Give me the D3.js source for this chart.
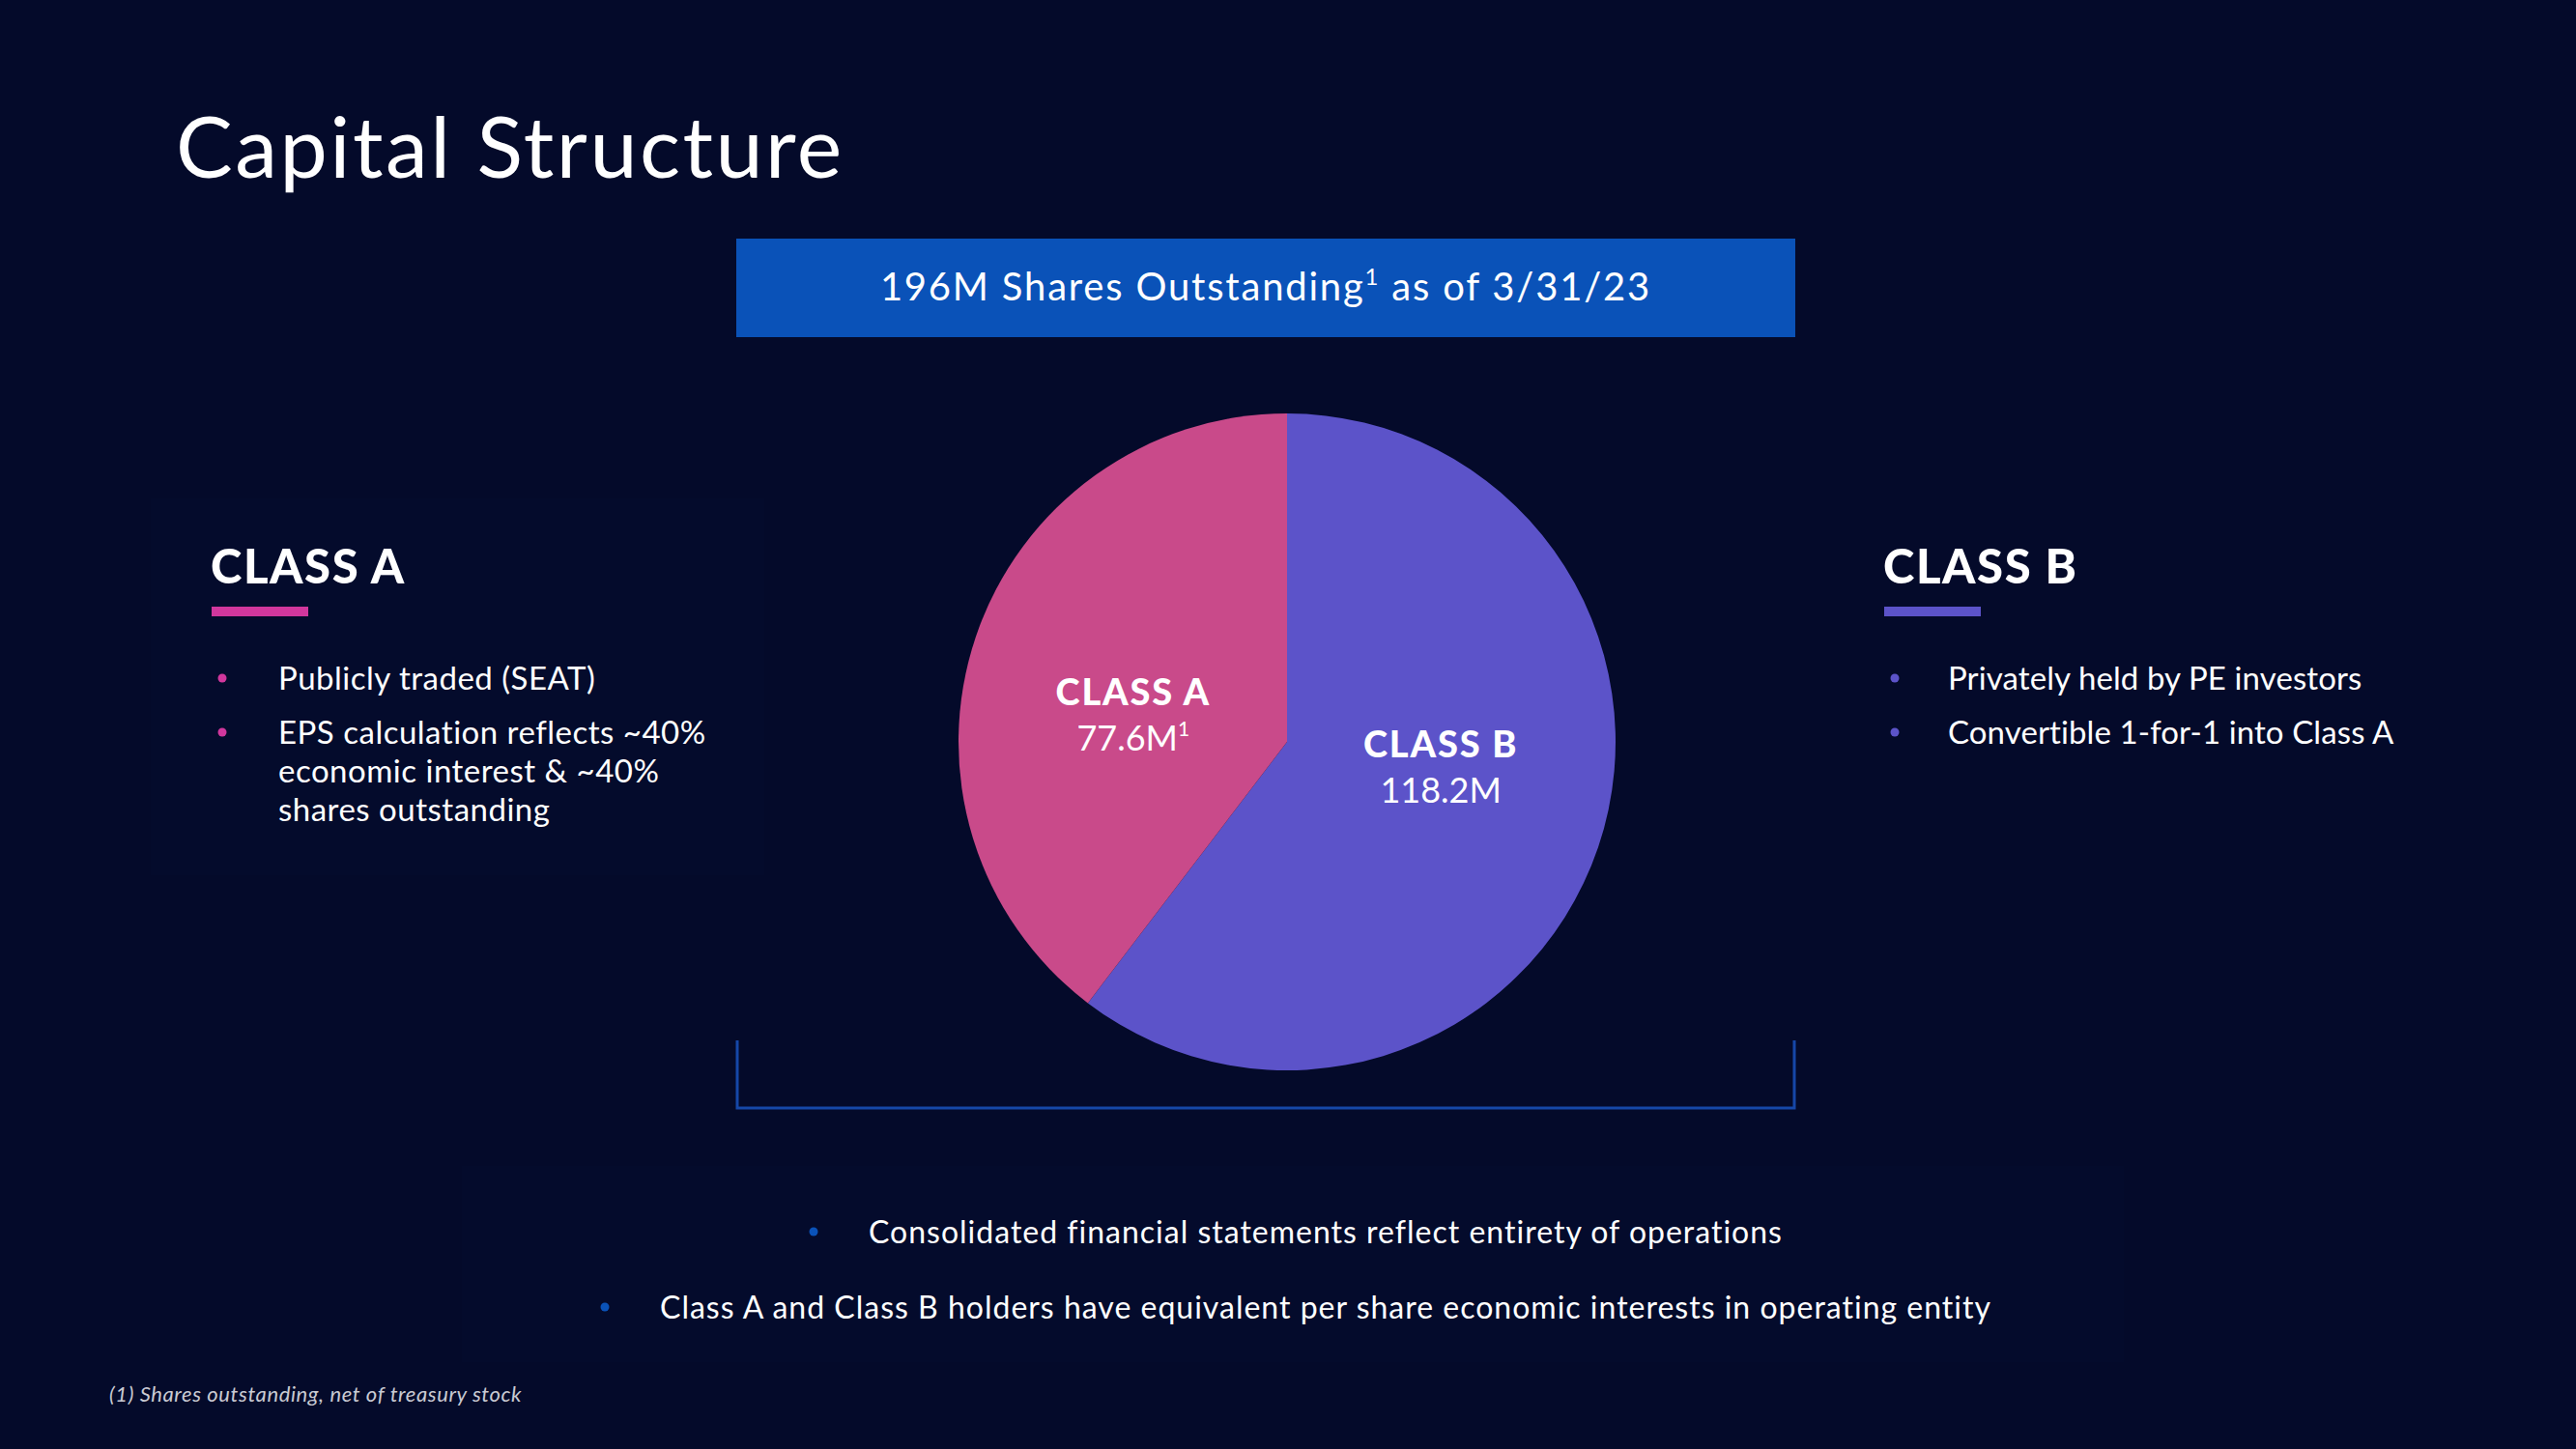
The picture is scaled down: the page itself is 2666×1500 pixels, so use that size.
<!DOCTYPE html>
<html>
<head>
<meta charset="utf-8">
<script src="https://cdn.jsdelivr.net/npm/d3@7"></script>
<style>
  html, body { margin: 0; padding: 0; background: #040a2a; }
  svg { display: block; }
  text { font-family: Lato, "Open Sans", sans-serif; fill: #fff; }
</style>
</head>
<body>
<div id="chart"></div>
<script>
// chart data
const categories = ["CLASS B", "CLASS A"];
const shares = [118.2, 77.6];
const valueLabels = ["118.2M", "77.6M"];
const valueNotes = ["", "1"];
const sliceColors = ["#5c53c9", "#c94a8a"];

const headline = ["196M Shares Outstanding", "1", " as of 3/31/23"];
const classABullets = [["Publicly traded (SEAT)"], ["EPS calculation reflects ~40%", "economic interest & ~40%", "shares outstanding"]];
const classBBullets = [["Privately held by PE investors"], ["Convertible 1-for-1 into Class A"]];
const bottomBullets = ["Consolidated financial statements reflect entirety of operations",
  "Class A and Class B holders have equivalent per share economic interests in operating entity"];
const footnote = "(1) Shares outstanding, net of treasury stock";

const width = 2666, height = 1500;
const svg = d3.select("#chart").append("svg")
  .attr("width", width).attr("height", height)
  .attr("viewBox", [0, 0, width, height]);

svg.append("rect").attr("width", width).attr("height", height).attr("fill", "#040a2a");

// faint backing panels
svg.append("rect").attr("x", 156).attr("y", 516).attr("width", 635).attr("height", 390)
  .attr("fill", "#040b2c");
svg.append("rect").attr("x", 478).attr("y", 1207).attr("width", 1720).attr("height", 203)
  .attr("fill", "#040b2c");

svg.append("text").attr("x", 182).attr("y", 184)
  .attr("font-size", 88).attr("font-weight", 400).attr("letter-spacing", 2.5)
  .text("Capital Structure");

// headline box
svg.append("rect").attr("x", 762).attr("y", 247).attr("width", 1096).attr("height", 102)
  .attr("fill", "#0a52b8");
const hl = svg.append("text").attr("x", 1310).attr("y", 311)
  .attr("text-anchor", "middle").attr("font-size", 40).attr("letter-spacing", 1.8);
hl.append("tspan").text(headline[0]);
hl.append("tspan").attr("font-size", 24).attr("dy", -16).text(headline[1]);
hl.append("tspan").attr("dy", 16).text(headline[2]);

// bracket under the pie
svg.append("path")
  .attr("d", "M763,1077V1147H1857V1077")
  .attr("fill", "none").attr("stroke", "#1547a8").attr("stroke-width", 3);

// pie
const cx = 1332, cy = 768, r = 340;
const pie = d3.pie().sort(null).value(d => d);
const arcs = pie(shares);
const arc = d3.arc().innerRadius(0).outerRadius(r);
const labelArc = d3.arc().innerRadius(168).outerRadius(168);

const g = svg.append("g").attr("transform", `translate(${cx},${cy})`);
g.selectAll("path.slice").data(arcs).join("path")
  .attr("class", "slice")
  .attr("d", arc)
  .attr("fill", (d, i) => sliceColors[i]);

const lab = g.selectAll("g.lab").data(arcs).join("g")
  .attr("class", "lab")
  .attr("transform", d => {
    const [x, y] = labelArc.centroid(d);
    return `translate(${x},${11 + 0.5 * y})`;
  });
lab.append("text").attr("y", -22).attr("text-anchor", "middle")
  .attr("font-size", 38).attr("font-weight", 900).attr("letter-spacing", 1.8)
  .text((d, i) => categories[i]);
const vt = lab.append("text").attr("y", 25).attr("text-anchor", "middle")
  .attr("font-family", "'Liberation Sans', Arial, sans-serif")
  .attr("font-size", 36);
vt.append("tspan").text((d, i) => valueLabels[i]);
vt.append("tspan").attr("font-size", 21).attr("dy", -15).text((d, i) => valueNotes[i]);

// side panels
function panel(x, textX, title, color, bullets, spacing) {
  svg.append("text").attr("x", x).attr("y", 604)
    .attr("font-size", 49).attr("font-weight", 900).attr("letter-spacing", 1.6).text(title);
  svg.append("rect").attr("x", x + 1).attr("y", 628).attr("width", 100).attr("height", 10)
    .attr("fill", color);
  let y = 714;
  bullets.forEach(lines => {
    svg.append("circle").attr("cx", x + 12).attr("cy", y - 12).attr("r", 4.5).attr("fill", color);
    lines.forEach(line => {
      svg.append("text").attr("x", textX).attr("y", y).attr("font-size", 33)
        .attr("letter-spacing", spacing).text(line);
      y += 40;
    });
    y += 16;
  });
}
panel(218, 288, "CLASS A", "#d1379d", classABullets, 0.5);
panel(1949, 2016, "CLASS B", "#5c53c9", classBBullets, 0.1);

// bottom bullets
bottomBullets.forEach((t, i) => {
  const y = 1287 + i * 78;
  const tx = svg.append("text").attr("x", 1372).attr("y", y)
    .attr("text-anchor", "middle").attr("font-size", 32).attr("letter-spacing", 1).text(t);
  const w = tx.node().getComputedTextLength();
  svg.append("circle").attr("cx", 1372 - w / 2 - 57).attr("cy", y - 12).attr("r", 4.5)
    .attr("fill", "#0a52b8");
});

svg.append("text").attr("x", 113).attr("y", 1451)
  .attr("font-size", 22).attr("font-style", "italic").attr("letter-spacing", 0.6)
  .style("fill", "#c9cad3")
  .text(footnote);
</script>
</body>
</html>
